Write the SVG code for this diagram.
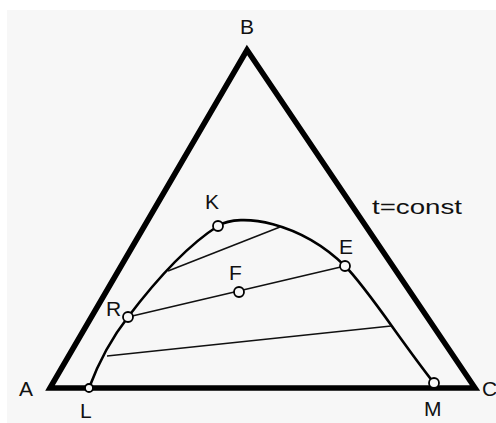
<svg xmlns="http://www.w3.org/2000/svg" width="496" height="423" viewBox="0 0 496 423">
<style>
.lbl{font-family:"Liberation Sans","DejaVu Sans",sans-serif;font-size:21px;fill:#111}
.tri{fill:none;stroke:#000;stroke-width:5.5;stroke-linejoin:miter}
.curve{fill:none;stroke:#000;stroke-width:2.6}
.tie{fill:none;stroke:#111;stroke-width:1.6}
.pt{fill:#f7f7f7;stroke:#000;stroke-width:1.8}
</style>
<rect x="0" y="0" width="496" height="423" fill="#ffffff"/>
<rect x="7" y="10" width="489" height="413" fill="#f7f7f7"/>
<g id="triangle">
<polygon class="tri" points="50,388 247,50 475,388"/>
</g>
<g id="connectors">
<path class="curve" d="M89,388 C98,364 110,340 128,317 C150,288 185,247 218,226 C240,212 300,222 345,266 C368,289 400,340 434,383"/>
<line class="tie" x1="168" y1="271" x2="280" y2="227"/>
<line class="tie" x1="128" y1="317" x2="345" y2="266"/>
<line class="tie" x1="107" y1="356" x2="391" y2="326"/>
</g>
<g id="node-K"><circle class="pt" cx="218" cy="226" r="5"/><text class="lbl" x="205" y="209">K</text></g>
<g id="node-E"><circle class="pt" cx="345" cy="266" r="5"/><text class="lbl" x="339" y="254">E</text></g>
<g id="node-F"><circle class="pt" cx="239" cy="292" r="5"/><text class="lbl" x="229" y="280">F</text></g>
<g id="node-R"><circle class="pt" cx="128" cy="317" r="5"/><text class="lbl" x="106" y="316">R</text></g>
<g id="node-L"><circle class="pt" cx="89" cy="388" r="4"/><text class="lbl" x="80" y="418">L</text></g>
<g id="node-M"><circle class="pt" cx="434" cy="383" r="5"/><text class="lbl" x="424" y="416">M</text></g>
<g id="node-A"><text class="lbl" x="19" y="396">A</text></g>
<g id="node-B"><text class="lbl" x="240" y="34">B</text></g>
<g id="node-C"><text class="lbl" x="482" y="396">C</text></g>
<g id="label-t"><text class="lbl" x="372" y="214" font-size="18" textLength="90" lengthAdjust="spacingAndGlyphs">t=const</text></g>
</svg>
